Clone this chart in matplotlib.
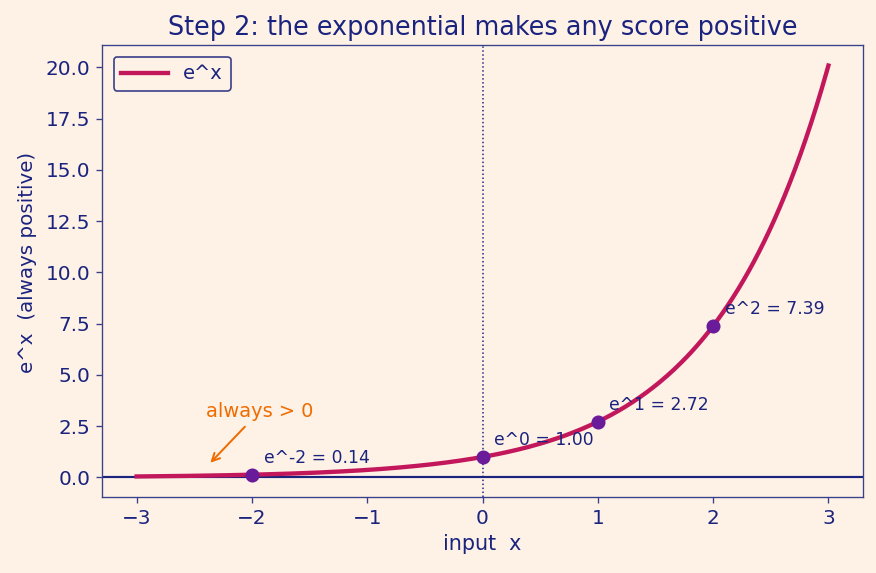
import numpy as np
import matplotlib
matplotlib.use("Agg")
import matplotlib.pyplot as plt

x_min, x_max = -3.0, 3.0
marked_x = [-2, 0, 1, 2]
marked_labels = ["e^-2 = 0.14", "e^0 = 1.00", "e^1 = 2.72", "e^2 = 7.39"]
title = "Step 2: the exponential makes any score positive"

bg = "#fef1e6"
navy = "#1a237e"
spine_c = "#3a3f8a"
crimson = "#c2185b"
purple = "#6a1b9a"
orange = "#ef6c00"

fig = plt.figure(figsize=(7.3, 4.775), dpi=120)
fig.patch.set_facecolor(bg)
ax = fig.add_axes([102/876, 1-497/573, (863-102)/876, (497-45)/573])
ax.set_facecolor(bg)

xs = np.linspace(x_min, x_max, 400)
ax.plot(xs, np.exp(xs), color=crimson, lw=2.6, label="e^x", zorder=3)
mx = np.array(marked_x, dtype=float)
ax.scatter(mx, np.exp(mx), color=purple, s=55, zorder=4)
for xv, lab in zip(mx, marked_labels):
    ax.annotate(lab, (xv, np.exp(xv)), xytext=(7, 7), textcoords="offset points",
                fontsize=10.3, color=navy)

ax.axhline(0, color=navy, lw=1.3, zorder=2)
ax.axvline(0, color=navy, lw=0.9, ls=":", zorder=2)

ax.annotate("always > 0", xy=(-2.38, 0.6), xytext=(-2.4, 2.95),
            color=orange, fontsize=11.6,
            arrowprops=dict(arrowstyle="->", color=orange, lw=1.2))

ax.set_title(title, fontsize=15.3, color=navy)
ax.set_xlabel("input  x", fontsize=12.4, color=navy)
ax.set_ylabel("e^x  (always positive)", fontsize=11.9, color=navy, labelpad=6)
ax.yaxis.set_label_coords(-0.085, 0.52)
ax.tick_params(colors=navy, labelsize=12)
for s in ax.spines.values():
    s.set_color(spine_c)
ax.tick_params(color=spine_c)
ax.yaxis.set_major_formatter(matplotlib.ticker.FormatStrFormatter("%.1f"))

leg = ax.legend(loc="upper left", fontsize=11.6, facecolor=bg, edgecolor=spine_c,
                framealpha=1, handlelength=2.4, borderaxespad=0.6)
for t in leg.get_texts():
    t.set_color(navy)

fig.savefig("out.png", dpi=120, facecolor=bg)
